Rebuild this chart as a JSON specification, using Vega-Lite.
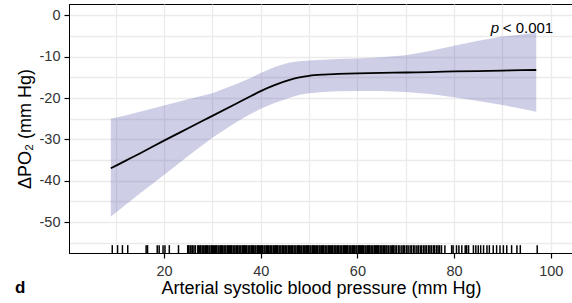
{
  "$schema": "https://vega.github.io/schema/vega-lite/v6.json",
  "width": 504,
  "height": 249,
  "autosize": {"type": "none"},
  "padding": {"left": 69, "top": 4, "right": 0, "bottom": 50},
  "background": "white",
  "config": {
    "font": "Liberation Sans",
    "view": {"stroke": "black", "strokeWidth": 1},
    "axis": {"gridColor": "#ebebeb", "gridWidth": 1.3, "domainColor": "black", "tickColor": "black", "tickSize": 5, "tickWidth": 1.2, "labelFont": "Liberation Sans", "labelFontSize": 14.5, "labelColor": "#333333", "titleFont": "Liberation Sans", "titleFontSize": 18, "titleFontWeight": "normal", "titleColor": "black", "labelOverlap": false}
  },
  "title": {"text": "d", "orient": "bottom", "anchor": "start", "frame": "group", "dx": -54, "dy": -22, "fontSize": 17, "fontWeight": "bold", "font": "Liberation Sans", "color": "black"},
  "resolve": {"axis": {"x": "independent", "y": "independent"}},
  "datasets": {
    "fit": [
      {"x": 9, "fit": -37.0, "lo": -48.7, "hi": -25.0},
      {"x": 12, "fit": -35.2, "lo": -45.9, "hi": -24.2},
      {"x": 15, "fit": -33.4, "lo": -43.1, "hi": -23.3},
      {"x": 20, "fit": -30.3, "lo": -38.6, "hi": -21.8},
      {"x": 25, "fit": -27.3, "lo": -34.0, "hi": -20.3},
      {"x": 30, "fit": -24.3, "lo": -29.6, "hi": -18.8},
      {"x": 35, "fit": -21.3, "lo": -25.8, "hi": -16.6},
      {"x": 38, "fit": -19.5, "lo": -23.8, "hi": -15.1},
      {"x": 40, "fit": -18.3, "lo": -22.6, "hi": -13.9},
      {"x": 43, "fit": -16.8, "lo": -21.1, "hi": -12.4},
      {"x": 46, "fit": -15.6, "lo": -19.9, "hi": -11.4},
      {"x": 48, "fit": -15.0, "lo": -19.2, "hi": -11.1},
      {"x": 50, "fit": -14.6, "lo": -18.8, "hi": -10.9},
      {"x": 53, "fit": -14.3, "lo": -18.5, "hi": -10.7},
      {"x": 56, "fit": -14.15, "lo": -18.35, "hi": -10.55},
      {"x": 60, "fit": -14.0, "lo": -18.3, "hi": -10.4},
      {"x": 65, "fit": -13.9, "lo": -18.3, "hi": -10.1},
      {"x": 70, "fit": -13.8, "lo": -18.5, "hi": -9.6},
      {"x": 75, "fit": -13.7, "lo": -19.0, "hi": -8.6},
      {"x": 80, "fit": -13.55, "lo": -19.8, "hi": -7.3},
      {"x": 85, "fit": -13.45, "lo": -20.7, "hi": -6.1},
      {"x": 90, "fit": -13.35, "lo": -21.7, "hi": -5.1},
      {"x": 94, "fit": -13.25, "lo": -22.6, "hi": -4.6},
      {"x": 97, "fit": -13.2, "lo": -23.3, "hi": -4.2}
    ],
    "rug": [
      {"x": 9.3}, {"x": 10.4}, {"x": 11.4}, {"x": 12.5}, {"x": 16.3}, {"x": 16.6}, {"x": 18.6}, {"x": 19.0}, {"x": 19.8}, {"x": 20.2}, {"x": 21.1}, {"x": 23.0}, {"x": 24.9}, {"x": 25.1}, {"x": 25.4}, {"x": 25.6}, {"x": 25.9}, {"x": 26.2}, {"x": 26.5}, {"x": 27.0},
      {"x": 27.1}, {"x": 27.4}, {"x": 27.6}, {"x": 27.9}, {"x": 28.1}, {"x": 28.3}, {"x": 28.6}, {"x": 28.8}, {"x": 29.0}, {"x": 29.3}, {"x": 29.5}, {"x": 29.8}, {"x": 30.0}, {"x": 30.2}, {"x": 30.5}, {"x": 30.7}, {"x": 30.9}, {"x": 31.2}, {"x": 31.4}, {"x": 31.7}, {"x": 31.9}, {"x": 32.1}, {"x": 32.4}, {"x": 32.6}, {"x": 32.8}, {"x": 33.1}, {"x": 33.3}, {"x": 33.6}, {"x": 33.8}, {"x": 34.0}, {"x": 34.3}, {"x": 34.5}, {"x": 34.7}, {"x": 35.0}, {"x": 35.2}, {"x": 35.5}, {"x": 35.7}, {"x": 35.9}, {"x": 36.2}, {"x": 36.4}, {"x": 36.6}, {"x": 36.9}, {"x": 37.1}, {"x": 37.4}, {"x": 37.6}, {"x": 37.8}, {"x": 38.1}, {"x": 38.3}, {"x": 38.5}, {"x": 38.8}, {"x": 39.0}, {"x": 39.3}, {"x": 39.5}, {"x": 39.7}, {"x": 40.0}, {"x": 40.2}, {"x": 40.4}, {"x": 40.7}, {"x": 40.9}, {"x": 41.2}, {"x": 41.4}, {"x": 41.6}, {"x": 41.9}, {"x": 42.1}, {"x": 42.3}, {"x": 42.6}, {"x": 42.8}, {"x": 43.1}, {"x": 43.3}, {"x": 43.5}, {"x": 43.8}, {"x": 44.0}, {"x": 44.2}, {"x": 44.5}, {"x": 44.7}, {"x": 45.0}, {"x": 45.2}, {"x": 45.4}, {"x": 45.7}, {"x": 45.9}, {"x": 46.1}, {"x": 46.4}, {"x": 46.6}, {"x": 46.9}, {"x": 47.1}, {"x": 47.3}, {"x": 47.6}, {"x": 47.8}, {"x": 48.0}, {"x": 48.3}, {"x": 48.5}, {"x": 48.8}, {"x": 49.0}, {"x": 49.2}, {"x": 49.5}, {"x": 49.7}, {"x": 49.9}, {"x": 50.2}, {"x": 50.4}, {"x": 50.7}, {"x": 50.9}, {"x": 51.1}, {"x": 51.4}, {"x": 51.6}, {"x": 51.8}, {"x": 52.1}, {"x": 52.3}, {"x": 52.6}, {"x": 52.8}, {"x": 53.0}, {"x": 53.3}, {"x": 53.5}, {"x": 53.7}, {"x": 54.0}, {"x": 54.2}, {"x": 54.5}, {"x": 54.7}, {"x": 54.9}, {"x": 55.2}, {"x": 55.4}, {"x": 55.6}, {"x": 55.9}, {"x": 56.1}, {"x": 56.4}, {"x": 56.6}, {"x": 56.8}, {"x": 57.1}, {"x": 57.3}, {"x": 57.5}, {"x": 57.8}, {"x": 58.0}, {"x": 58.3}, {"x": 58.5}, {"x": 58.7}, {"x": 59.0}, {"x": 59.2}, {"x": 59.4}, {"x": 59.7}, {"x": 59.9}, {"x": 60.2}, {"x": 60.4}, {"x": 60.6}, {"x": 60.9}, {"x": 61.1}, {"x": 61.3}, {"x": 61.6}, {"x": 61.8}, {"x": 62.1}, {"x": 62.3}, {"x": 62.5}, {"x": 62.8}, {"x": 63.0}, {"x": 63.2}, {"x": 63.5}, {"x": 63.7}, {"x": 64.0}, {"x": 64.2}, {"x": 64.4}, {"x": 64.7}, {"x": 64.9}, {"x": 65.1}, {"x": 65.4}, {"x": 65.6}, {"x": 65.9}, {"x": 66.1},
      {"x": 66.4}, {"x": 66.75}, {"x": 67.0}, {"x": 67.3}, {"x": 67.5}, {"x": 67.8}, {"x": 68.1}, {"x": 68.5}, {"x": 68.8}, {"x": 69.2}, {"x": 69.5}, {"x": 69.8}, {"x": 70.2}, {"x": 70.5}, {"x": 70.9}, {"x": 71.2}, {"x": 71.6}, {"x": 71.9}, {"x": 72.3}, {"x": 72.6}, {"x": 73.0}, {"x": 73.3}, {"x": 73.7}, {"x": 74.0}, {"x": 74.3}, {"x": 74.7}, {"x": 75.0}, {"x": 75.3}, {"x": 75.7}, {"x": 76.0}, {"x": 76.4}, {"x": 76.7}, {"x": 77.0}, {"x": 77.4}, {"x": 78.1},
      {"x": 79.5}, {"x": 79.8}, {"x": 80.5}, {"x": 81.0}, {"x": 81.6}, {"x": 82.3}, {"x": 82.6}, {"x": 83.0}, {"x": 84.0}, {"x": 84.5}, {"x": 85.0}, {"x": 85.5}, {"x": 86.1}, {"x": 86.8}, {"x": 87.3}, {"x": 88.1}, {"x": 88.8}, {"x": 89.5}, {"x": 90.2}, {"x": 90.9}, {"x": 91.9}, {"x": 93.0}, {"x": 93.7}, {"x": 97.2}
    ],
    "ann": [{"x": 100.5, "y": -4.2, "p": "p", "rest": "< 0.001"}]
  },
  "layer": [
    {
      "data": {"name": "fit"},
      "mark": {"type": "area", "color": "#3b3f9a", "opacity": 0.25},
      "encoding": {
        "x": {"field": "x", "type": "quantitative", "scale": {"domain": [0.35, 104.6], "nice": false, "zero": false},
              "axis": {"orient": "top", "title": null, "values": [10, 20, 30, 40, 50, 60, 70, 80, 90, 100], "grid": true, "labels": false, "ticks": false, "domain": false}},
        "y": {"field": "lo", "type": "quantitative", "scale": {"domain": [-57.5, 2.78], "nice": false, "zero": false},
              "axis": {"orient": "right", "title": null, "values": [-55, -50, -45, -40, -35, -30, -25, -20, -15, -10, -5, 0], "grid": true, "labels": false, "ticks": false, "domain": false}},
        "y2": {"field": "hi"}
      }
    },
    {
      "data": {"name": "fit"},
      "mark": {"type": "line", "color": "black", "strokeWidth": 1.8, "interpolate": "monotone"},
      "encoding": {
        "x": {"field": "x", "type": "quantitative",
              "axis": {"orient": "bottom", "title": "Arterial systolic blood pressure (mm Hg)", "values": [20, 40, 60, 80, 100], "grid": false, "labelPadding": 6, "titlePadding": 2, "labelFlush": false}},
        "y": {"field": "fit", "type": "quantitative",
              "axis": {"orient": "left", "title": "ΔPO₂ (mm Hg)", "values": [-50, -40, -30, -20, -10, 0], "grid": false, "labelPadding": 4, "titlePadding": 5, "labelFlush": false,
                       "labelExpr": "datum.value < 0 ? '-' + abs(datum.value) : '' + datum.value"}}
      }
    },
    {
      "data": {"name": "rug"},
      "mark": {"type": "rule", "color": "black", "strokeWidth": 1.5},
      "encoding": {
        "x": {"field": "x", "type": "quantitative", "axis": null},
        "y": {"datum": -57.5, "type": "quantitative", "axis": null},
        "y2": {"datum": -55.6}
      }
    },
    {
      "data": {"name": "ann"},
      "mark": {"type": "text", "align": "right", "baseline": "alphabetic", "fontSize": 15, "fontStyle": "italic", "font": "Liberation Sans", "dx": -54},
      "encoding": {
        "x": {"field": "x", "type": "quantitative", "axis": null},
        "y": {"field": "y", "type": "quantitative", "axis": null},
        "text": {"field": "p"}
      }
    },
    {
      "data": {"name": "ann"},
      "mark": {"type": "text", "align": "right", "baseline": "alphabetic", "fontSize": 15, "font": "Liberation Sans"},
      "encoding": {
        "x": {"field": "x", "type": "quantitative", "axis": null},
        "y": {"field": "y", "type": "quantitative", "axis": null},
        "text": {"field": "rest"}
      }
    }
  ]
}
